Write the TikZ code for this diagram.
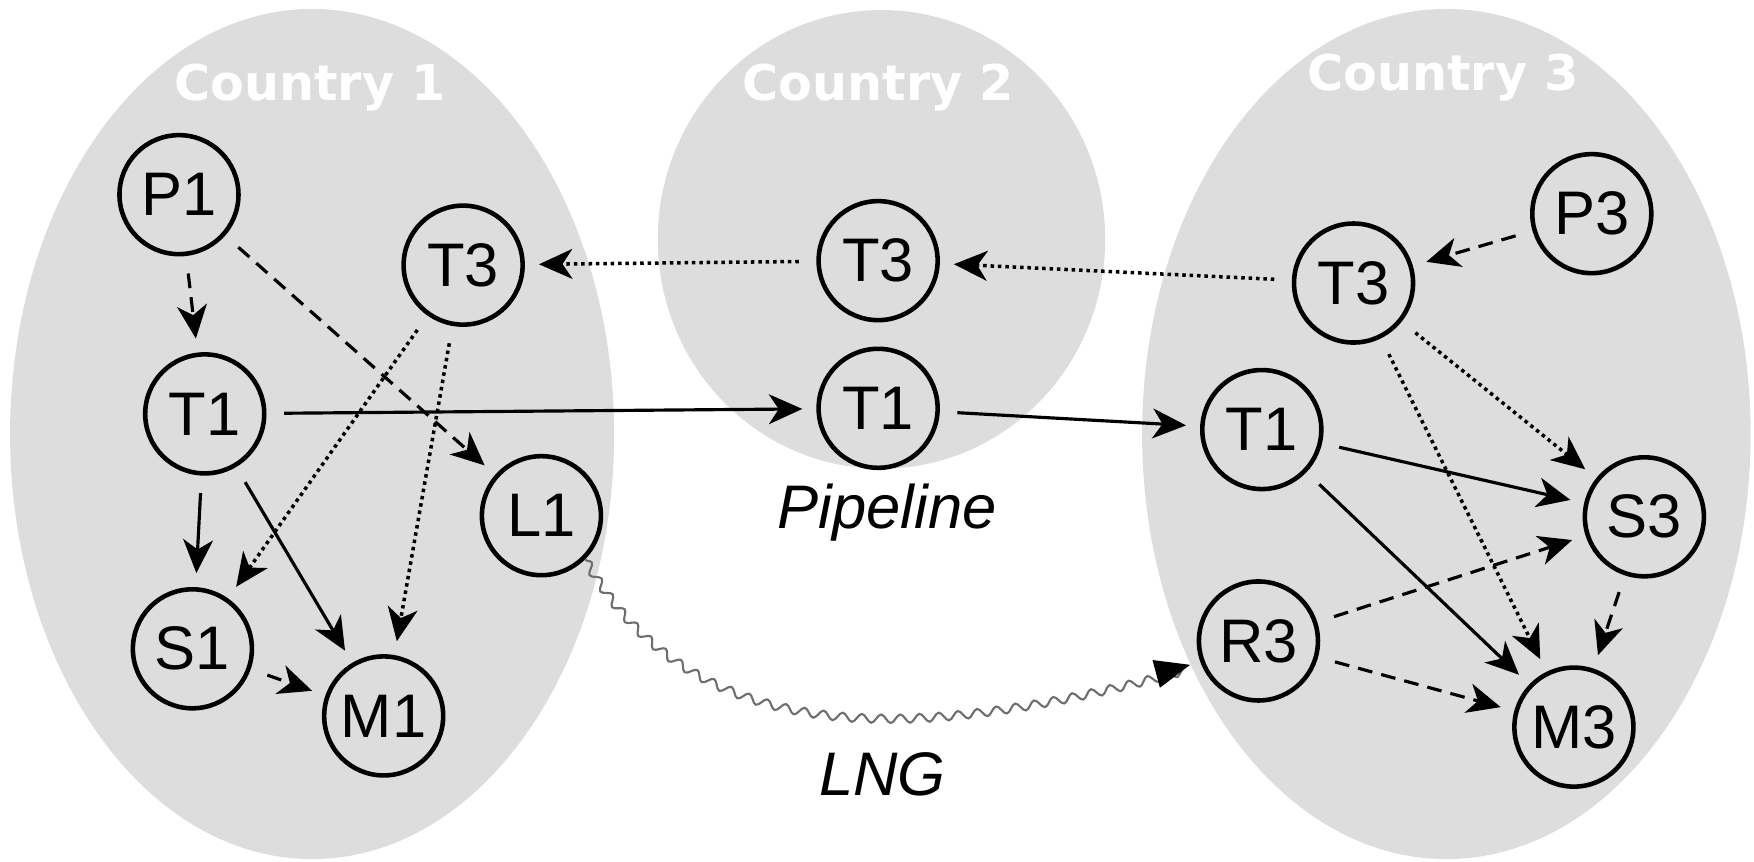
\documentclass[tikz,border=0pt]{standalone}
\usepackage{fontspec}
\setmainfont{Liberation Sans}
\newfontfamily\titlefont{DejaVu Sans}
\usetikzlibrary{arrows.meta,decorations.pathmorphing}
\definecolor{region}{RGB}{221,221,221}
\definecolor{shipline}{RGB}{110,110,110}
\tikzset{
  country/.style={fill=region, draw=none},
  ctitle/.style={text=white, font=\titlefont\bfseries\fontsize{14}{16}\selectfont},
  station/.style={circle, draw, line width=1.3pt, minimum size=1.19cm, inner sep=0pt,
    font=\fontsize{17.5}{20}\selectfont},
  route/.style={font=\itshape\fontsize{17.5}{20}\selectfont},
  flow/.style={line width=0.9pt, -{Stealth[length=9.5pt,width=8.5pt,inset=2.8pt]},
    shorten >=4pt, shorten <=5pt},
  solidflow/.style={flow},
  dottedflow/.style={flow, line width=1pt, dash pattern=on 1pt off 1.1pt},
  dashedflow/.style={flow, dash pattern=on 4.2pt off 2.6pt},
  shipping/.style={draw=shipline, line width=0.6pt,
    decorate, decoration={snake, amplitude=1.2pt, segment length=5.5pt, post length=4pt},
    -{Triangle[length=10pt,width=8pt,color=black]}, shorten >=3pt}
}
\begin{document}
\begin{tikzpicture}[x=0.011186cm, y=0.011186cm]
  \useasboundingbox (0,0) rectangle (1568,770);

  % country regions
  \fill[country] (279,382) ellipse [x radius=270, y radius=380];
  \fill[country] (788,556) ellipse [x radius=200, y radius=205];
  \fill[country] (1293,382) ellipse [x radius=272, y radius=380];

  \node[ctitle] (c1) at (277,692) {Country 1};
  \node[ctitle] (c2) at (785,692) {Country 2};
  \node[ctitle] (c3) at (1290,701) {Country 3};

  % country 1
  \node[station] (P1)  at (160,596) {P1};
  \node[station] (T3a) at (414,533) {T3};
  \node[station] (T1a) at (183,400) {T1};
  \node[station] (L1)  at (484,309) {L1};
  \node[station] (S1)  at (172,190) {S1};
  \node[station] (M1)  at (343,130) {M1};

  % country 2
  \node[station] (T3b) at (785,537) {T3};
  \node[station] (T1b) at (785,405) {T1};

  % country 3
  \node[station] (P3)  at (1423,579) {P3};
  \node[station] (T3c) at (1210,517) {T3};
  \node[station] (T1c) at (1128,386) {T1};
  \node[station] (S3)  at (1470,308) {S3};
  \node[station] (R3)  at (1125,197) {R3};
  \node[station] (M3)  at (1407,120) {M3};

  \node[route] (pipe) at (793,312) {Pipeline};
  \node[route] (lng)  at (789,78) {LNG};

  % flows inside country 1
  \draw[dashedflow] (P1) -- (T1a);
  \draw[dashedflow] (P1) -- (L1);
  \draw[dottedflow] (T3a) -- (S1);
  \draw[dottedflow] (T3a) -- (M1);
  \draw[solidflow] (T1a) -- (S1);
  \draw[solidflow] (T1a) -- (M1);
  \draw[dashedflow] (S1) -- (M1);

  % pipeline transit
  \draw[solidflow] (T1a) -- (T1b);
  \draw[solidflow] (T1b) -- (T1c);
  \draw[dottedflow] (T3c) -- (T3b);
  \draw[dottedflow] (T3b) -- (T3a);

  % flows inside country 3
  \draw[dashedflow] (P3) -- (T3c);
  \draw[dottedflow] (T3c) -- (S3);
  \draw[dottedflow] (T3c) -- (M3);
  \draw[solidflow] (T1c) -- (S3);
  \draw[solidflow] (T1c) -- (M3);
  \draw[dashedflow] (R3) -- (S3);
  \draw[dashedflow] (R3) -- (M3);
  \draw[dashedflow] (S3) -- (M3);

  % LNG shipping
  \draw[shipping] (L1.-45) to[out=-60, in=195] (R3.200);
\end{tikzpicture}
\end{document}
